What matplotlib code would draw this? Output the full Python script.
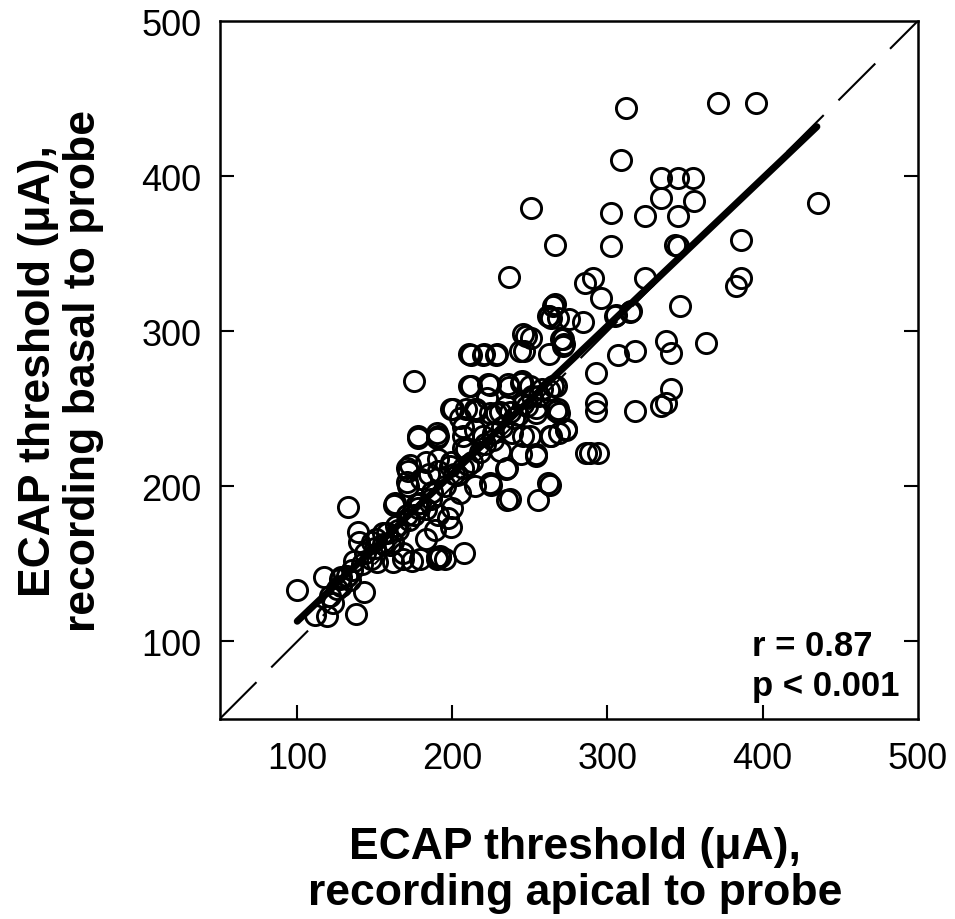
import matplotlib
matplotlib.use("Agg")
import matplotlib.pyplot as plt
import numpy as np

plt.rcParams["font.family"] = ["Liberation Sans", "DejaVu Sans"]

# ECAP thresholds (uA)
apical = [
    100, 117, 111.4, 119.3, 138.2, 142.9, 132.7, 139, 139.8, 136.4, 128, 123, 121,
    162.7, 170.6, 170.6, 177.6, 175.3, 190.3, 199, 204.8, 210.8, 210.8, 220.6, 228.5,
    224.2, 215.5, 236.8, 245.5, 251, 236.4, 251, 266, 266, 262, 268, 275.4, 270, 272,
    246, 244.7, 251.4, 254, 245.5, 230.5, 222.6, 214.7, 206.8, 199, 191, 183.2, 180,
    187, 179.3, 170.6, 163.5, 155.6, 148.5, 160, 168, 179.3, 190.3, 195, 207.6, 199,
    191, 199.7, 204.8, 214.7, 225, 235, 235, 255, 263.2, 254, 244.3, 250, 263.6,
    273.4, 268, 266.7, 258, 262, 263.6, 221, 226.5, 230.5, 238.3, 242.3, 206.8, 185,
    191, 201, 206.8, 212.7, 175.3, 183.2, 151.6, 143.8, 128, 134, 147.7, 161.5,
    183.2, 189, 197,
    125.4, 131.8, 127.5, 163, 171.5, 177, 189.8, 191.9, 173.7, 168.3, 161.8, 151,
    157.6, 178, 190.8, 200.5, 209, 215.5, 224, 237, 254, 267, 269, 254, 234.8, 237,
    261.6, 224, 209, 198.4, 171.5, 172.6, 192,
    212.3, 219.8, 228.4, 243.4, 247.7, 265, 261.7, 271.3, 271.3, 284, 212.2, 223,
    236, 244.5, 250, 265, 214.4, 228.4, 234.8, 269, 273.5, 189.8, 206.9, 219.8,
    245.5, 262.7, 288.5,
    346.5, 363.6, 337.9, 341, 306.7, 317.5, 292.8, 292.8, 292.8, 317.5, 341, 337.9,
    334.7, 286.3, 293.8, 314.3, 305.7, 296,
    308.9, 311.7, 334.7, 345.4, 355, 334.7, 356, 302.4, 324, 345.4, 302.4, 343.2,
    345.4, 285.3, 290.6, 324, 315.4, 304.6,
    371, 395.8, 435.5, 386.2, 386.2, 383,
    150, 155, 165, 172, 178, 186, 195, 203, 210, 218, 226, 232, 240, 248, 256, 262,
    142, 135,
]
basal = [
    133, 141.7, 117, 116.3, 118, 132.2, 187, 170.8, 164.4, 151.9, 141.7, 124.6, 129,
    188, 211.7, 203, 231.4, 267.8, 231.4, 249.6, 244, 264.8, 285.6, 285.2, 285.2,
    265.5, 249.6, 264, 298, 295.8, 334.8, 379.5, 355.3, 317.4, 309.8, 308.3, 307.6,
    295, 291.7, 287.5, 267.8, 258, 250.4, 253.4, 247.7, 257, 236.4, 225, 215.5,
    217.4, 215.5, 205, 196.6, 189, 181.4, 174.6, 170, 164.4, 162.5, 156.8, 153,
    154.2, 153, 156.8, 173.9, 181.4, 186, 195.5, 200.4, 201, 211.7, 191, 191, 201,
    221, 221, 232.6, 232.6, 236.4, 249.6, 264.8, 262.9, 285.6, 308.3, 227, 234.5,
    223, 234.5, 245.8, 238, 208, 210, 208, 211.7, 215.5, 181.4, 185.2, 151, 156.8,
    136, 139.8, 153, 164.4, 166.3, 172, 179.5,
    133.7, 142.3, 140, 189.5, 200, 188.4, 153, 154.3, 152, 153, 151, 166,
    170, 232.4, 232.4, 249.6, 249.6, 248.5, 247.5, 247.7, 247.5, 248.5, 234.6,
    219.5, 211, 191.7, 202.4, 202.4, 223.8, 213, 210, 214, 155,
    285, 285, 285, 287, 296.8, 316, 309.7, 294.7, 290.4, 306, 264.6, 265.7, 265.7,
    266.8, 264.6, 264.6, 249.6, 247.5, 251.7, 247.5, 236.7, 234.6, 232.4, 232.4,
    232.4, 232.4, 221.7,
    316, 292.5, 293.6, 286, 285, 287, 273.2, 253.9, 248.5, 248.5, 262.5, 253.9,
    251.7, 221.7, 221.7, 312.7, 310.8, 321.5,
    410.6, 444, 398.8, 398.8, 398.8, 386, 383.7, 376, 374, 374, 354.8, 355.8, 354.8,
    331.2, 334.4, 334.4, 312.9, 309.7,
    447, 447, 382.7, 359, 334.4, 329,
    160, 163, 172, 178, 186, 192, 200, 207, 214, 222, 230, 238, 244, 252, 258, 262,
    150, 146,
]

fit_x = [100, 435]
fit_intercept = 17.8
fit_slope = 0.952
stats_text = "r = 0.87\np < 0.001"

fig = plt.figure(figsize=(9.55, 9.2), dpi=100)
ax = fig.add_axes([0.23, 0.2174, 0.731, 0.7586])

ax.plot([50, 500], [50, 500], color="black", lw=1.5, dashes=(25, 10), zorder=1)
ax.plot(apical, basal, linestyle="none", marker="o", ms=14.5, mfc="none",
        mec="black", mew=2.1, zorder=2)
fx = np.array(fit_x)
ax.plot(fx, fit_intercept + fit_slope * fx, color="black", lw=5,
        solid_capstyle="round", zorder=3)

ax.set_xlim(50, 500)
ax.set_ylim(50, 500)
ticks = [100, 200, 300, 400, 500]
ax.set_xticks(ticks)
ax.set_yticks(ticks)
ax.tick_params(direction="in", length=10, width=1.5, labelsize=26, right=True)
ax.tick_params(axis="x", pad=16)
ax.tick_params(axis="y", pad=13)
ax.xaxis.get_major_ticks()[-1].tick1line.set_visible(False)
ax.yaxis.get_major_ticks()[-1].tick1line.set_visible(False)
ax.yaxis.get_major_ticks()[-1].tick2line.set_visible(False)
for sp in ax.spines.values():
    sp.set_linewidth(1.8)

ax.set_xlabel("ECAP threshold (μA),\nrecording apical to probe",
              fontsize=32, fontweight="bold", linespacing=1.15)
ax.set_ylabel("ECAP threshold (μA),\nrecording basal to probe",
              fontsize=32, fontweight="bold", linespacing=1.15)
ax.xaxis.set_label_coords(0.509, -0.154)
ax.yaxis.set_label_coords(-0.165, 0.5)

ax.text(0.762, 0.025, stats_text, transform=ax.transAxes, fontsize=25,
        fontweight="bold", ha="left", va="bottom", linespacing=1.25)

fig.savefig("out.png", dpi=100)
